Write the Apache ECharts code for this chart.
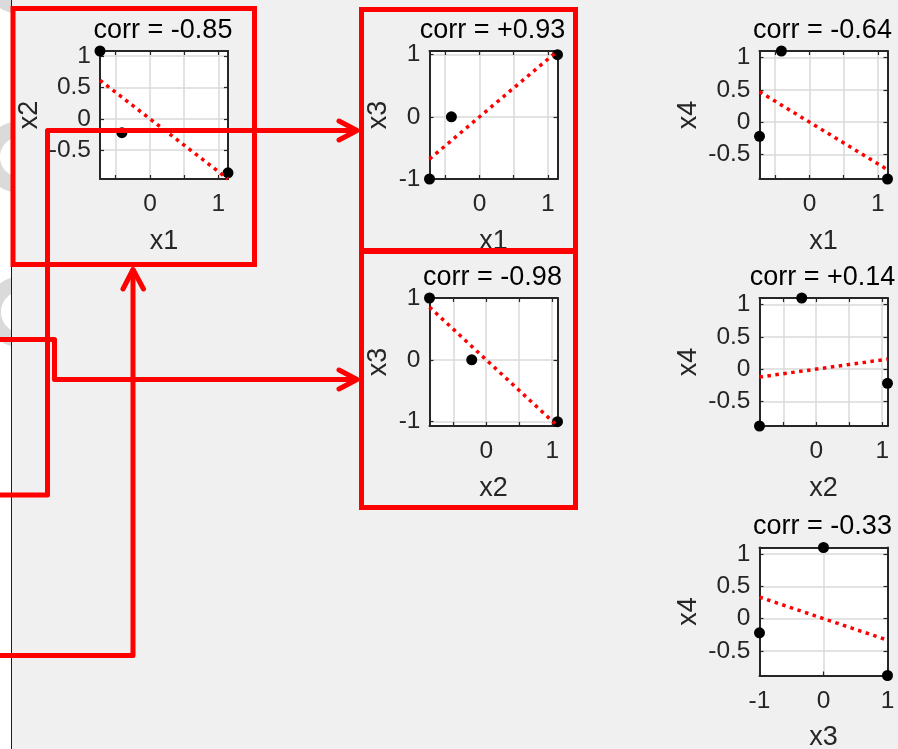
<!DOCTYPE html>
<html>
<head>
<meta charset="utf-8">
<script src="https://cdn.jsdelivr.net/npm/echarts@6/dist/echarts.min.js"></script>
<style>
  html, body { margin: 0; padding: 0; background: #f0f0f0; }
  #chart { width: 898px; height: 749px; }
</style>
</head>
<body>
<div id="chart"></div>
<script>
// Three observations of four variables
const x1 = [-0.73, -0.41, 1.14];
const x2 = [1.08, -0.22, -0.86];
const x3 = [-1, 0, 1];
const x4 = [-0.22, 1.10, -0.88];

// Pairwise panels: variable on the horizontal / vertical axis, and the correlation shown on top
const pairX = ['x1', 'x1', 'x2', 'x1', 'x2', 'x3'];
const pairY = ['x2', 'x3', 'x3', 'x4', 'x4', 'x4'];
const corrValues = [-0.85, 0.93, -0.98, -0.64, 0.14, -0.33];

// Tick positions (grid lines) and labelled ticks for each variable
const gridTicks = { x1: [-1, -0.5, 0, 0.5, 1], x2: [-1, -0.5, 0, 0.5, 1], x3: [-1, 0, 1], x4: [-1, -0.5, 0, 0.5, 1] };
const xTickLabels = { x1: [0, 1], x2: [0, 1], x3: [-1, 0, 1] };
const yTickLabels = { x2: [-0.5, 0, 0.5, 1], x3: [-1, 0, 1], x4: [-0.5, 0, 0.5, 1] };

const vars = { x1, x2, x3, x4 };

// ---- layout ----
const panelLeft = [100, 429.5, 429.5, 759.5, 759.5, 759.5];
const panelTop = [51, 51, 298, 51, 298, 547.5];
const panelSize = 128;
const yNameGap = { x2: 57, x3: 37, x4: 57 };

const FONT = '"Liberation Sans", Arial, Helvetica, sans-serif';
const AX = '#262626';
const TICK_FS = 24.5, LABEL_FS = 27;

function mean(a) { return a.reduce((s, v) => s + v, 0) / a.length; }
function sd(a) { const m = mean(a); return Math.sqrt(a.reduce((s, v) => s + (v - m) * (v - m), 0) / (a.length - 1)); }

const grids = [], xAxes = [], yAxes = [], series = [], graphics = [];

pairX.forEach((xn, i) => {
  const yn = pairY[i];
  const xs = vars[xn], ys = vars[yn];
  const mx = mean(xs), my = mean(ys);
  // least-squares line: slope = r * sy / sx, through the means
  const slope = corrValues[i] * sd(ys) / sd(xs);
  const xMin = Math.min(...xs), xMax = Math.max(...xs);
  const lineY0 = my + slope * (xMin - mx), lineY1 = my + slope * (xMax - mx);
  const yMin = Math.min(...ys, lineY0, lineY1), yMax = Math.max(...ys, lineY0, lineY1);
  const eps = 1e-6;
  const xt = gridTicks[xn].filter(v => v > xMin + eps && v < xMax - eps);
  const yt = gridTicks[yn].filter(v => v > yMin + eps && v < yMax - eps);

  grids.push({
    left: panelLeft[i], top: panelTop[i], width: panelSize, height: panelSize,
    show: true, backgroundColor: '#ffffff', borderWidth: 0, outerBoundsMode: 'none'
  });

  const common = {
    type: 'value', gridIndex: i,
    axisLine: { show: true, onZero: false, lineStyle: { color: AX, width: 2 } },
    axisTick: { show: true, inside: true, length: 4, lineStyle: { color: AX, width: 1.2 } },
    nameMoveOverlap: false
  };

  xAxes.push(Object.assign({}, common, {
    position: 'bottom', min: xMin, max: xMax,
    axisTick: Object.assign({}, common.axisTick, { customValues: xt }),
    axisLabel: { customValues: xTickLabels[xn], formatter: v => String(v), fontSize: TICK_FS, color: AX, fontFamily: FONT, margin: 13, hideOverlap: false, showMinLabel: true, showMaxLabel: true },
    splitLine: { show: true, lineStyle: { color: '#dadada', width: 1.5 } },
    name: xn, nameLocation: 'middle', nameGap: 49,
    nameTextStyle: { fontSize: LABEL_FS, color: AX, fontFamily: FONT }
  }));
  xAxes.push(Object.assign({}, common, {
    position: 'top', min: xMin, max: xMax,
    axisTick: Object.assign({}, common.axisTick, { customValues: xt }),
    axisLabel: { show: false }, splitLine: { show: false }
  }));
  yAxes.push(Object.assign({}, common, {
    position: 'left', min: yMin, max: yMax,
    axisTick: Object.assign({}, common.axisTick, { customValues: yt }),
    axisLabel: { customValues: yTickLabels[yn], formatter: v => String(v), fontSize: TICK_FS, color: AX, fontFamily: FONT, margin: 9, hideOverlap: false, showMinLabel: true, showMaxLabel: true },
    splitLine: { show: true, lineStyle: { color: '#dadada', width: 1.5 } },
    name: yn, nameLocation: 'middle', nameGap: yNameGap[yn],
    nameTextStyle: { fontSize: LABEL_FS, color: AX, fontFamily: FONT }
  }));
  yAxes.push(Object.assign({}, common, {
    position: 'right', min: yMin, max: yMax,
    axisTick: Object.assign({}, common.axisTick, { customValues: yt }),
    axisLabel: { show: false }, splitLine: { show: false }
  }));

  series.push({
    type: 'scatter', xAxisIndex: 2 * i, yAxisIndex: 2 * i,
    data: xs.map((v, k) => [v, ys[k]]),
    symbolSize: 11, itemStyle: { color: '#000', opacity: 1 }, clip: false, z: 3, silent: true
  });
  series.push({
    type: 'line', xAxisIndex: 2 * i, yAxisIndex: 2 * i,
    data: [[xMin, lineY0], [xMax, lineY1]],
    showSymbol: false, clip: false, z: 4, silent: true,
    lineStyle: { color: '#ff0000', width: 3.5, type: [3.5, 4.5], cap: 'butt', opacity: 1 }
  });

  const r = corrValues[i];
  graphics.push({
    type: 'text', x: panelLeft[i] + panelSize / 2 - 1, y: panelTop[i] - 20.5, z: 10,
    style: {
      text: 'corr = ' + (r >= 0 ? '+' : '-') + Math.abs(r).toFixed(2),
      font: LABEL_FS + 'px ' + FONT, fill: '#000',
      align: 'center', verticalAlign: 'middle', textAlign: 'center', textVerticalAlign: 'middle'
    }
  });
});

// ---- left margin strip with faint background shapes ----
function circlePts(cx, cy, rad) {
  const p = [];
  for (let k = 0; k < 96; k++) { const a = 2 * Math.PI * k / 96; p.push([cx + rad * Math.cos(a), cy + rad * Math.sin(a)]); }
  return p;
}
function clipRight(pts, xm) {
  const out = [];
  for (let k = 0; k < pts.length; k++) {
    const a = pts[k], b = pts[(k + 1) % pts.length];
    const ain = a[0] <= xm, bin = b[0] <= xm;
    if (ain) out.push(a);
    if (ain !== bin) { const t = (xm - a[0]) / (b[0] - a[0]); out.push([xm, a[1] + t * (b[1] - a[1])]); }
  }
  return out;
}
const stripW = 11;
graphics.push({ type: 'rect', z: 0, shape: { x: 0, y: 0, width: stripW, height: 749 }, style: { fill: '#ffffff' } });
const rings = [[20, -22, 36, 20], [20, 157, 36, 20], [22, 312, 36, 21]];
rings.forEach(([cx, cy, R, rr]) => {
  graphics.push({ type: 'polygon', z: 1, shape: { points: clipRight(circlePts(cx, cy, R), stripW) }, style: { fill: '#dadada' } });
  graphics.push({ type: 'polygon', z: 1, shape: { points: clipRight(circlePts(cx, cy, rr), stripW) }, style: { fill: '#ffffff' } });
});
graphics.push({ type: 'rect', z: 2, shape: { x: 11, y: 0, width: 1, height: 749 }, style: { fill: '#0000ff' } });

// ---- red highlight boxes and connector arrows ----
const RED = { stroke: '#ff0000', lineWidth: 5, fill: 'none', lineJoin: 'round', lineCap: 'round' };
const boxes = [[13, 8.5, 241.5, 256], [361.5, 9.5, 214, 241], [361.5, 251.5, 214, 256]];
boxes.forEach(([x, y, w, h]) => graphics.push({ type: 'rect', z: 50, shape: { x, y, width: w, height: h }, style: Object.assign({}, RED, { lineJoin: 'miter' }) }));
const connectors = [
  [[-5, 495], [47.5, 495], [47.5, 130.5], [356, 130.5]],
  [[-5, 339.5], [54.5, 339.5], [54.5, 379.5], [356, 379.5]],
  [[-5, 655.5], [133, 655.5], [133, 270]]
];
const arrowHeads = [
  [[339, 121], [357, 130.5], [339, 140]],
  [[339, 370], [357, 379.5], [339, 389]],
  [[123, 289], [133, 269.5], [143.5, 289]]
];
connectors.concat(arrowHeads).forEach(pts => graphics.push({ type: 'polyline', z: 50, shape: { points: pts }, style: Object.assign({}, RED) }));

const chart = echarts.init(document.getElementById('chart'), null, { renderer: 'canvas' });
chart.setOption({
  backgroundColor: '#f0f0f0',
  animation: false,
  grid: grids,
  xAxis: xAxes,
  yAxis: yAxes,
  series: series,
  graphic: { elements: graphics }
});
</script>
</body>
</html>
